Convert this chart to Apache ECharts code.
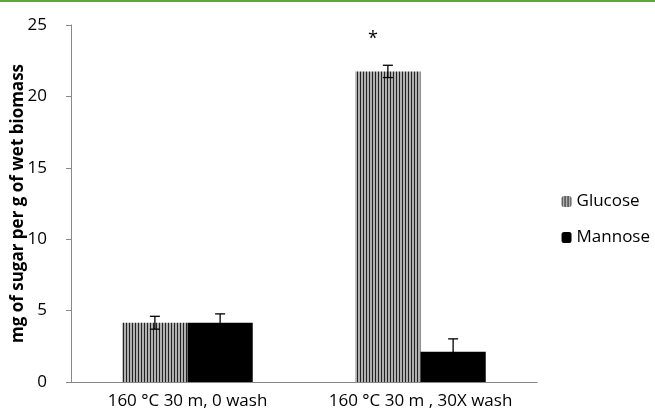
<!DOCTYPE html>
<html><head><meta charset="utf-8">
<script src="https://cdn.jsdelivr.net/npm/echarts@6/dist/echarts.min.js"></script>
<style>html,body{margin:0;padding:0;background:#fff}#c{width:655px;height:416px;border-top:2px solid #5fa63c;box-sizing:border-box}</style>
</head><body><div id="c"></div>
<script>
const categories = ['160 °C 30 m, 0 wash', '160 °C 30 m , 30X wash'];
const glucose = [4.15, 21.75];
const mannose = [4.15, 2.12];
const glucoseErr = [0.45, 0.43];
const mannoseErr = [0.62, 0.9];
const yTicks = [0, 5, 10, 15, 20, 25];
const FONT = '"Open Sans", Lato, sans-serif';

const pc = document.createElement('canvas');
pc.width = 3; pc.height = 4;
const px = pc.getContext('2d');
px.fillStyle = '#b0b0b0'; px.fillRect(0,0,3,4);
px.fillStyle = '#222'; px.fillRect(0,0,1,4);
const stripe = {image: pc, repeat: 'repeat'};

const chart = echarts.init(document.getElementById('c'));
function errSeries(vals, errs, idx) {
  return {
    type: 'custom', z: 10, silent: true,
    data: vals.map((v, i) => [i, v - errs[i], v + errs[i]]),
    renderItem: function (params, api) {
      const i = api.value(0);
      const bw = api.size([1, 0])[0];
      const off = (idx === 0 ? -1 : 1) * bw * 0.14;
      const lo = api.coord([i, api.value(1)]);
      const hi = api.coord([i, api.value(2)]);
      const x = lo[0] + off;
      const st = {stroke: '#000', lineWidth: 1.3};
      return {type: 'group', children: [
        {type: 'line', shape: {x1: x, y1: lo[1], x2: x, y2: hi[1]}, style: st},
        {type: 'line', shape: {x1: x - 5, y1: hi[1], x2: x + 5, y2: hi[1]}, style: st},
        {type: 'line', shape: {x1: x - 5, y1: lo[1], x2: x + 5, y2: lo[1]}, style: st}
      ]};
    }
  };
}
chart.setOption({
  animation: false,
  textStyle: {fontFamily: FONT},
  grid: {left: 71, right: 118, top: 23, bottom: 34, containLabel: false, outerBoundsMode: 'none'},
  legend: {
    orient: 'vertical', right: 0, top: 186, itemGap: 19, itemWidth: 10, itemHeight: 11,
    textStyle: {fontSize: 17, color: '#000', fontFamily: FONT},
    data: ['Glucose', 'Mannose']
  },
  xAxis: {
    type: 'category', data: categories,
    axisLine: {lineStyle: {color: '#888'}},
    axisTick: {length: 5, lineStyle: {color: '#888'}},
    axisLabel: {fontSize: 17, color: '#000', margin: 11, fontFamily: FONT, interval: 0, hideOverlap: false}
  },
  yAxis: {
    type: 'value', min: 0, max: 25, interval: 5,
    name: 'mg of sugar per g of wet biomass', nameLocation: 'middle', nameGap: 44,
    nameMoveOverlap: false,
    nameTextStyle: {fontSize: 17, fontWeight: 'bold', color: '#000', fontFamily: FONT},
    axisLine: {show: true, lineStyle: {color: '#888'}},
    axisTick: {show: true, length: 5, lineStyle: {color: '#888'}},
    splitLine: {show: false},
    axisLabel: {fontSize: 17, color: '#000', margin: 24, fontFamily: FONT,
      formatter: v => yTicks.includes(v) ? String(v) : ''}
  },
  series: [
    {name: 'Glucose', type: 'bar', data: glucose, barWidth: '28%', barGap: '0%',
     itemStyle: {color: stripe},
     markPoint: {symbol: 'circle', symbolSize: 0, silent: true,
       label: {show: true, formatter: '*', fontSize: 18, color: '#000', offset: [-15, 4]},
       data: [{coord: [1, 24.3]}]}},
    {name: 'Mannose', type: 'bar', data: mannose, barWidth: '28%', barGap: '0%',
     itemStyle: {color: '#000'}},
    errSeries(glucose, glucoseErr, 0),
    errSeries(mannose, mannoseErr, 1)
  ]
});
</script></body></html>
